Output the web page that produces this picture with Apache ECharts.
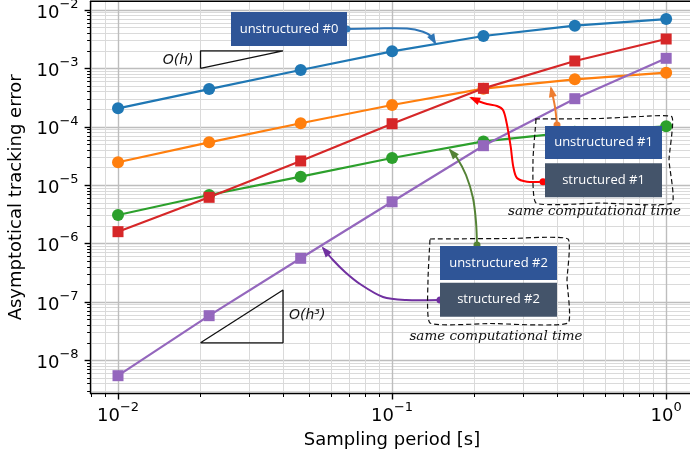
<!DOCTYPE html>
<html><head><meta charset="utf-8">
<script src="https://cdn.jsdelivr.net/npm/echarts@6/dist/echarts.min.js"></script>
<style>html,body{margin:0;padding:0;background:#fff;overflow:hidden}#c{width:690px;height:457px}</style>
</head><body><div id="c"></div>
<script>
// ---- data ----
const periods = [0.01, 0.0215, 0.0464, 0.1, 0.2154, 0.4642, 1.0];
const unstructured0 = [2.07e-4, 4.43e-4, 9.4e-4, 1.96e-3, 3.59e-3, 5.39e-3, 7.0e-3];
const unstructured1 = [2.47e-5, 5.42e-5, 1.15e-4, 2.36e-4, 4.5e-4, 6.5e-4, 8.45e-4];
const unstructured2 = [3.09e-6, 6.79e-6, 1.40e-5, 2.92e-5, 5.63e-5, 8.2e-5, 1.02e-4];
const structured1   = [1.6e-6, 6.2e-6, 2.6e-5, 1.13e-4, 4.56e-4, 1.34e-3, 3.19e-3];
const structured2   = [5.47e-9, 5.83e-8, 5.6e-7, 5.2e-6, 4.75e-5, 3.03e-4, 1.49e-3];
const xMajorExp = [-2, -1, 0];
const yMajorExp = [-8, -7, -6, -5, -4, -3, -2];
const slopeX  = [0.02, 0.04];
const slope1Y = [1e-3, 2e-3];     // O(h)
const slope3Y = [2e-8, 1.6e-7];   // O(h^3)

const L = Math.log10;
// plot area runs past the right edge of the picture (as in the reference)
const X_MIN = -2.1, X_MAX = 0.2993, Y_MIN = -8.567, Y_MAX = -1.849;
function minorVals(lo, hi) {
  const out = [];
  for (let d = Math.floor(lo) - 1; d <= Math.ceil(hi); d++)
    for (let k = 2; k <= 9; k++) { const v = d + L(k); if (v > lo && v < hi) out.push(v); }
  return out;
}
const pts = ys => periods.map((p, i) => [L(p), L(ys[i])]);
const sup = e => String(e).replace('-', '\u2212');
const fmt = v => '{b|10}{s|' + sup(Math.round(v)) + '}';
const rich = {
  b: { fontSize: 18, fontFamily: 'DejaVu Sans', color: '#000', verticalAlign: 'bottom', lineHeight: 24 },
  s: { fontSize: 13, fontFamily: 'DejaVu Sans', color: '#000', verticalAlign: 'top', lineHeight: 13 }
};
const spine = { show: true, onZero: false, lineStyle: { color: '#000', width: 1.4 } };

function majorAxis(kind, vals, min, max) {
  return {
    type: 'value', min, max, position: kind === 'x' ? 'bottom' : 'left',
    axisLine: spine,
    axisTick: { show: true, customValues: vals, length: 6, lineStyle: { color: '#000', width: 1.4 } },
    axisLabel: { show: true, customValues: vals, formatter: fmt, rich, margin: kind === 'x' ? 8 : 12 },
    splitLine: { show: true, lineStyle: { color: '#bdbdbd', width: 1.4 } },
    name: kind === 'x' ? 'Sampling period [s]' : 'Asymptotical tracking error',
    nameLocation: kind === 'x' ? 'start' : 'middle', nameGap: kind === 'x' ? 36 : 57,
    nameTextStyle: kind === 'x'
      ? { fontSize: 18, fontFamily: 'DejaVu Sans', color: '#000', align: 'center', verticalAlign: 'top', padding: [0, 0, 0, 0] }
      : { fontSize: 18, fontFamily: 'DejaVu Sans', color: '#000' }
  };
}
function minorAxis(kind, vals, min, max) {
  return {
    type: 'value', min, max, position: kind === 'x' ? 'bottom' : 'left',
    axisLine: { show: false, onZero: false },
    axisTick: { show: true, customValues: vals, length: 3.5, lineStyle: { color: '#000', width: 1 } },
    axisLabel: { show: false },
    splitLine: { show: true, lineStyle: { color: '#dadada', width: 1 } }
  };
}
const xMinor = minorVals(X_MIN, X_MAX), yMinor = minorVals(Y_MIN, Y_MAX);

function lineSeries(name, ys, color, symbol, size, z) {
  return { name, type: 'line', data: pts(ys), symbol, symbolSize: size, z,
    itemStyle: { color }, lineStyle: { color, width: 2.2 }, emphasis: { disabled: true }, animation: false };
}
function slopeSeries(data) {
  return { type: 'line', data, symbol: 'none', z: 1, lineStyle: { color: '#111', width: 1.3 }, animation: false, silent: true };
}
const tri1 = [[L(slopeX[0]), L(slope1Y[0])], [L(slopeX[0]), L(slope1Y[1])], [L(slopeX[1]), L(slope1Y[1])], [L(slopeX[0]), L(slope1Y[0])]];
const tri3 = [[L(slopeX[0]), L(slope3Y[0])], [L(slopeX[1]), L(slope3Y[0])], [L(slopeX[1]), L(slope3Y[1])], [L(slopeX[0]), L(slope3Y[0])]];

// ---- annotations ----
function arrowEls(p, color, smooth) {
  const els = [{ type: 'polyline', z: 100, shape: { points: p, smooth }, style: { stroke: color, lineWidth: 2, fill: null } }];
  const [x2, y2] = p[p.length - 1], [x1, y1] = p[p.length - 2];
  const a = Math.atan2(y2 - y1, x2 - x1), len = 9, w = 4;
  const bx = x2 - len * Math.cos(a), by = y2 - len * Math.sin(a);
  els.push({ type: 'polygon', z: 101, shape: { points: [[x2 + 2 * Math.cos(a), y2 + 2 * Math.sin(a)], [bx + w * Math.sin(a), by - w * Math.cos(a)], [bx - w * Math.sin(a), by + w * Math.cos(a)]] }, style: { fill: color } });
  els.push({ type: 'circle', z: 101, shape: { cx: p[0][0], cy: p[0][1], r: 3.5 }, style: { fill: color } });
  return els;
}
function box(x, y, w, h, fill, text) {
  return [
    { type: 'rect', z: 110, shape: { x, y, width: w, height: h }, style: { fill } },
    { type: 'text', z: 111, x: x + w / 2, y: y + h / 2, style: { text, fill: '#fff', font: '13px "Open Sans"', textAlign: 'center', textVerticalAlign: 'middle' } }
  ];
}
function wavy(points) {
  return { type: 'polygon', z: 105, shape: { points, smooth: 0.15 }, style: { fill: null, stroke: '#111', lineWidth: 1.2, lineDash: [5, 3] } };
}
const hand = (x, y, align) => ({ type: 'text', z: 111, x, y, style: { text: 'same computational time', fill: '#111', font: 'italic 13.5px "DejaVu Serif"', textAlign: align, textVerticalAlign: 'middle' } });

const graphics = [].concat(
  [{ type: 'line', z: 50, shape: { x1: 90.6, y1: 1.2, x2: 700, y2: 1.2 }, style: { stroke: '#000', lineWidth: 1.4 } },
   { type: 'text', z: 50, x: 392, y: 440, style: { text: 'Sampling period [s]', fill: '#000', font: '18px "DejaVu Sans"', textAlign: 'center', textVerticalAlign: 'middle' } }],
  box(231, 12, 116, 34, '#2f5597', 'unstructured #0'),
  arrowEls([[347, 29], [373, 28.5], [407, 28.5], [423, 31.7], [431.5, 36.5], [435, 43]], '#2e75b6', 0.4),
  [wavy([[535, 119], [600, 118.5], [640, 116.5], [672, 117], [669, 160], [672, 203], [600, 203], [536, 203], [533, 160], [536, 119]])],
  arrowEls([[543, 181.7], [527, 181.7], [517, 178], [513.3, 166.7], [510.7, 146.7], [506.7, 123.3], [503, 110], [497, 106], [487, 104], [480, 101.7], [471, 97.7]], '#ff0000', 0.3),
  arrowEls([[557, 125], [555, 107], [551, 88]], '#ed7d31', 0.3),
  box(545, 126, 117, 33, '#2f5597', 'unstructured #1'),
  box(545, 163.3, 117, 34, '#44546a', 'structured #1'),
  [hand(508, 211, 'left')],
  [wavy([[430, 239], [510, 238.5], [568, 239], [567, 280], [568, 323], [490, 323.5], [430, 323], [428, 280], [430, 239]])],
  arrowEls([[477, 245], [476, 222], [473, 198], [466, 175], [457, 158], [450, 150]], '#548235', 0.3),
  arrowEls([[440, 300], [406, 300], [383, 297], [360, 284], [345, 272], [333, 260], [323, 248]], '#7030a0', 0.3),
  box(440, 246, 117, 34, '#2f5597', 'unstructured #2'),
  box(440, 282.7, 117, 34, '#44546a', 'structured #2'),
  [hand(496, 336, 'center')],
  [{ type: 'text', z: 111, x: 193.5, y: 60, style: { text: 'O(h)', fill: '#111', font: 'italic 14px "DejaVu Sans"', textAlign: 'right', textVerticalAlign: 'middle' } },
   { type: 'text', z: 111, x: 289, y: 315, style: { text: 'O(h\u00B3)', fill: '#111', font: 'italic 14px "DejaVu Sans"', textAlign: 'left', textVerticalAlign: 'middle' } }]
);

const xMajor = majorAxis('x', xMajorExp, X_MIN, X_MAX);
delete xMajor.name;   // centred under the visible plot area via graphic text

const chart = echarts.init(document.getElementById('c'), null, { renderer: 'canvas' });
chart.setOption({
  animation: false,
  backgroundColor: '#fff',
  grid: { left: 90.6, top: 1.2, width: 657.6, height: 392.3, containLabel: false, outerBoundsMode: 'none' },
  xAxis: [
    xMajor,
    minorAxis('x', xMinor, X_MIN, X_MAX)
  ],
  yAxis: [
    majorAxis('y', yMajorExp, Y_MIN, Y_MAX),
    minorAxis('y', yMinor, Y_MIN, Y_MAX)
  ],
  series: [
    slopeSeries(tri1), slopeSeries(tri3),
    lineSeries('unstructured #0', unstructured0, '#1f77b4', 'circle', 12, 2),
    lineSeries('unstructured #1', unstructured1, '#ff7f0e', 'circle', 12, 3),
    lineSeries('unstructured #2', unstructured2, '#2ca02c', 'circle', 12, 4),
    lineSeries('structured #1', structured1, '#d62728', 'rect', 11, 5),
    lineSeries('structured #2', structured2, '#9467bd', 'rect', 11, 6)
  ],
  graphic: { elements: graphics }
});
</script></body></html>
